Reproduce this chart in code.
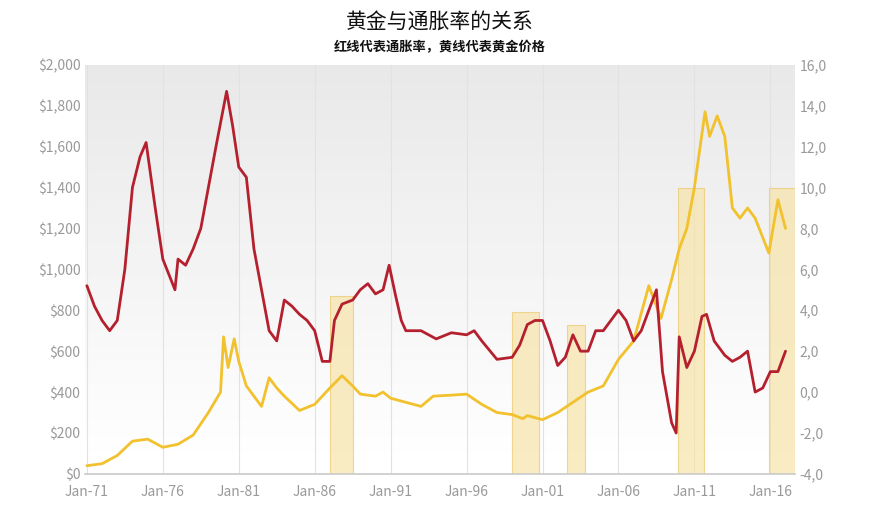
import numpy as np, pandas as pd, seaborn as sns, matplotlib
matplotlib.use("Agg")
import matplotlib.pyplot as plt
from matplotlib.ticker import FuncFormatter

gold_t = [1971,1972,1973,1974,1975,1976,1977,1978,1979,1979.8,1980.0,1980.3,1980.7,1981,1981.5,1982.5,1983,1983.5,1984,1985,1986,1987,1987.8,1988.5,1989,1990,1990.5,1991,1992,1993,1993.8,1995,1996,1997,1998,1999,1999.7,2000,2001,2002,2003,2004,2005,2006,2007,2008,2008.8,2009.5,2010,2010.5,2011,2011.7,2012,2012.5,2013,2013.5,2014,2014.5,2015,2015.9,2016.5,2017]
gold_v = [40,50,90,160,170,130,145,190,300,400,670,520,660,550,430,330,470,420,380,310,340,420,480,430,390,380,400,370,350,330,380,385,390,340,300,290,270,285,265,300,350,400,430,560,650,920,760,950,1100,1200,1400,1770,1650,1750,1650,1300,1250,1300,1250,1080,1340,1200]
inf_t = [1971,1971.5,1972,1972.5,1973,1973.5,1974,1974.5,1974.9,1975.5,1976,1976.8,1977,1977.5,1978,1978.5,1979,1979.5,1980.2,1980.6,1981,1981.5,1982,1982.5,1983,1983.5,1984,1984.5,1985,1985.5,1986,1986.5,1987,1987.3,1987.8,1988.5,1989,1989.5,1990,1990.5,1990.9,1991.3,1991.7,1992,1993,1994,1995,1996,1996.5,1997,1998,1999,1999.5,2000,2000.5,2001,2001.5,2002,2002.5,2003,2003.5,2004,2004.5,2005,2005.5,2006,2006.5,2007,2007.5,2008,2008.5,2008.9,2009.5,2009.8,2010,2010.5,2011,2011.5,2011.8,2012.3,2012.8,2013,2013.5,2014,2014.5,2015,2015.5,2016,2016.5,2017]
inf_v = [5.2,4.2,3.5,3.0,3.5,6,10,11.5,12.2,9,6.5,5,6.5,6.2,7,8,10,12,14.7,13,11,10.5,7,5,3,2.5,4.5,4.2,3.8,3.5,3.0,1.5,1.5,3.5,4.3,4.5,5,5.3,4.8,5.0,6.2,4.8,3.5,3.0,3.0,2.6,2.9,2.8,3.0,2.5,1.6,1.7,2.3,3.3,3.5,3.5,2.5,1.3,1.7,2.8,2.0,2.0,3.0,3.0,3.5,4.0,3.5,2.5,3.0,4.0,5.0,1.0,-1.5,-2.0,2.7,1.2,2.0,3.7,3.8,2.5,2.0,1.8,1.5,1.7,2.0,0.0,0.2,1.0,1.0,2.0]
band_start = [1987.0,1999.0,2002.6,2009.9,2015.9]
band_end = [1988.5,2000.8,2003.8,2011.6,2017.6]
band_top = [870,790,730,1400,1400]
tick_years = [1971,1976,1981,1986,1991,1996,2001,2006,2011,2016]
tick_labels = ["Jan-71","Jan-76","Jan-81","Jan-86","Jan-91","Jan-96","Jan-01","Jan-06","Jan-11","Jan-16"]

sns.set_theme(style="white")
plt.rcParams['font.family'] = ['Noto Sans CJK SC', 'DejaVu Sans']
fig = plt.figure(figsize=(8.8,5.14), dpi=100)
ax = fig.add_axes([0.097,0.078,0.806,0.796])
x0, x1 = 1970.9, 2017.6
grad = np.linspace(0.91,1.0,100).reshape(-1,1)
ax.imshow(grad, extent=[x0,x1,0,2000], aspect='auto', cmap='gray', vmin=0, vmax=1, zorder=0, origin='upper')
for s,e,t in zip(band_start,band_end,band_top):
    ax.bar(s,t,width=e-s,align='edge',color='#f7e3a8',alpha=0.7,edgecolor='#ecc86a',linewidth=0.8,zorder=1)
for xt in tick_years:
    ax.axvline(xt,color='#e2e2e2',lw=0.8,zorder=0.5)
sns.lineplot(x=gold_t,y=gold_v,ax=ax,color='#f2c12e',lw=2,zorder=3)
ax.set_xlim(x0,x1); ax.set_ylim(0,2000)
ax.set_yticks(range(0,2001,200))
ax.yaxis.set_major_formatter(FuncFormatter(lambda v,p: f"${v:,.0f}"))
ax.set_xticks(tick_years); ax.set_xticklabels(tick_labels)
ax2 = ax.twinx()
sns.lineplot(x=inf_t,y=inf_v,ax=ax2,color='#b5202e',lw=2,zorder=4)
ax2.set_ylim(-4,16); ax2.set_yticks(range(-4,17,2))
ax2.yaxis.set_major_formatter(FuncFormatter(lambda v,p: f"{v:.1f}".replace('.',',')))
for a in (ax,ax2):
    a.tick_params(labelsize=10,colors='#999999',length=0)
    for sp in a.spines.values(): sp.set_visible(False)
ax.tick_params(axis='x', pad=8)
ax.spines['bottom'].set_visible(True); ax.spines['bottom'].set_color('#cccccc')
ax.set_xlabel(''); ax.set_ylabel(''); ax2.set_ylabel('')
fig.text(0.5,0.945,"黄金与通胀率的关系",ha='center',fontsize=15,color='#111111')
fig.text(0.5,0.9,"红线代表通胀率，黄线代表黄金价格",ha='center',fontsize=9.5,color='#111111',fontweight='bold')
fig.savefig("out.png",dpi=100)
